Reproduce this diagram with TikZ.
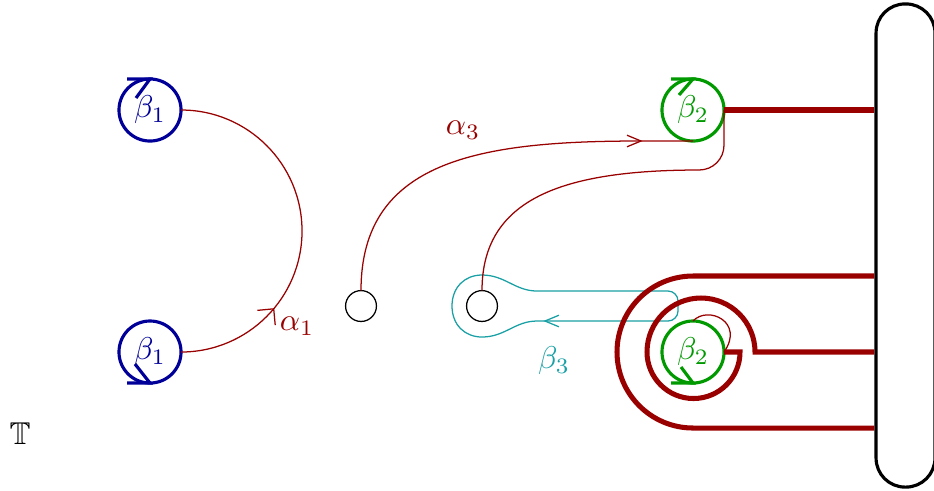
\documentclass[tikz,border=0pt]{standalone}
\usepackage{amssymb}
\usetikzlibrary{arrows.meta}
\usetikzlibrary{decorations.markings}
\definecolor{loopteal}{RGB}{25,160,165}
\tikzstyle{ring} = [
  draw,
  circle,
  line width=1pt,
  minimum size=19.7pt,
  inner sep=0pt,
  outer sep=0pt,
]
\tikzstyle{ringone} = [
  ring,
  blue!60!black,
]
\tikzstyle{ringtwo} = [
  ring,
  green!60!black,
]
\tikzstyle{ringmark} = [
  line width=1pt,
]
\tikzstyle{hole} = [
  draw,
  circle,
  minimum size=9.8pt,
  inner sep=0pt,
  outer sep=0pt,
]
\tikzstyle{wallbox} = [
  draw,
  rectangle,
  rounded corners=9.2pt,
  line width=1pt,
  minimum width=18.7pt,
  minimum height=153.4pt,
  inner sep=0pt,
]
\tikzstyle{thinred} = [
  red!60!black,
  line width=0.4pt,
]
\tikzstyle{heavyred} = [
  red!60!black,
  line width=1.6pt,
]
\tikzstyle{loopcyan} = [
  loopteal,
  line width=0.4pt,
]
\tikzset{
  barbat/.style 2 args={
    decoration={markings,
      mark=at position #1 with {\arrow{Straight Barb[angle=#2]}}},
    postaction=decorate,
  },
}

\begin{document}
\begin{tikzpicture}[
    x=0.3175pt,
    y=-0.3175pt,
  ]
  \useasboundingbox (0,0) rectangle (934,490);
  % circles
  \node[ringone] (b1u) at (150,110) {$\beta_1$};
  \node[ringone] (b1d) at (150,352) {$\beta_1$};
  \node[ringtwo] (b2u) at (693,110) {$\beta_2$};
  \node[ringtwo] (b2d) at (693,352) {$\beta_2$};
  \node[hole] (h1) at (361,306) {};
  \node[hole] (h2) at (482,306) {};
  \node[wallbox] (wall) at (905.5,245.5) {};
  \node (torus) at (20,434) {$\mathbb{T}$};
  % labels
  \node[text=red!60!black] (a1) at (297,326) {$\alpha_1$};
  \node[text=red!60!black] (a3) at (463,130) {$\alpha_3$};
  \node[text=loopteal] (b3) at (554,361) {$\beta_3$};
  % orientation marks
  \draw[ringmark, blue!60!black] (b1u.north) ++(-23,0) -- (b1u.north) -- ++(-14,19);
  \draw[ringmark, blue!60!black] (b1d.south) ++(-23,0) -- (b1d.south) -- ++(-15,-19);
  \draw[ringmark, green!60!black] (b2u.north) ++(-22,0) -- (b2u.north) -- ++(-14,16);
  \draw[ringmark, green!60!black] (b2d.south) ++(-22,0) -- (b2d.south) -- ++(-12,-16);
  % beta_3
  \draw[loopcyan, barbat={18pt}{45:4.8pt}] (600,321) -- (537,321)
    .. controls (515,321) and (505,337) .. (482,337)
    .. controls (465,337) and (452,325) .. (452,306)
    .. controls (452,287) and (465,275) .. (482,275)
    .. controls (505,275) and (515,291) .. (537,291)
    -- (668,291) arc (-90:0:10) -- (678,311) arc (0:90:10) -- cycle;
  % alpha_1
  \draw[thinred, barbat={0.28}{90:5.2pt}] (b1d.east) arc (90:-90:121);
  % alpha_3
  \draw[thinred, barbat={-16pt}{45:4.8pt}] (h1.north)
    .. controls (361,160) and (480,141) .. (640,141) -- (b2u.south);
  \draw[thinred] (h2.north)
    .. controls (482,200) and (560,170) .. (699,170)
    .. controls (713,170) and (724,159) .. (724,145) -- (b2u.east);
  \draw[thinred] (b2d.north)
    .. controls (708,305) and (745,322) .. (b2d.east);
  % thick arcs
  \coordinate (ctop) at (693,276);
  \coordinate (cbot) at (693,428);
  \coordinate (sp) at (755,352);
  \draw[heavyred] (b2u.east) -- (b2u.east -| wall.west);
  \draw[heavyred] (ctop -| wall.west) -- (ctop) arc (-90:-270:76) -- (cbot -| wall.west);
  \draw[heavyred] (b2d.east -| wall.west) -- (sp) arc (0:-180:54) arc (180:0:46.5) -- (b2d.east);
\end{tikzpicture}
\end{document}
